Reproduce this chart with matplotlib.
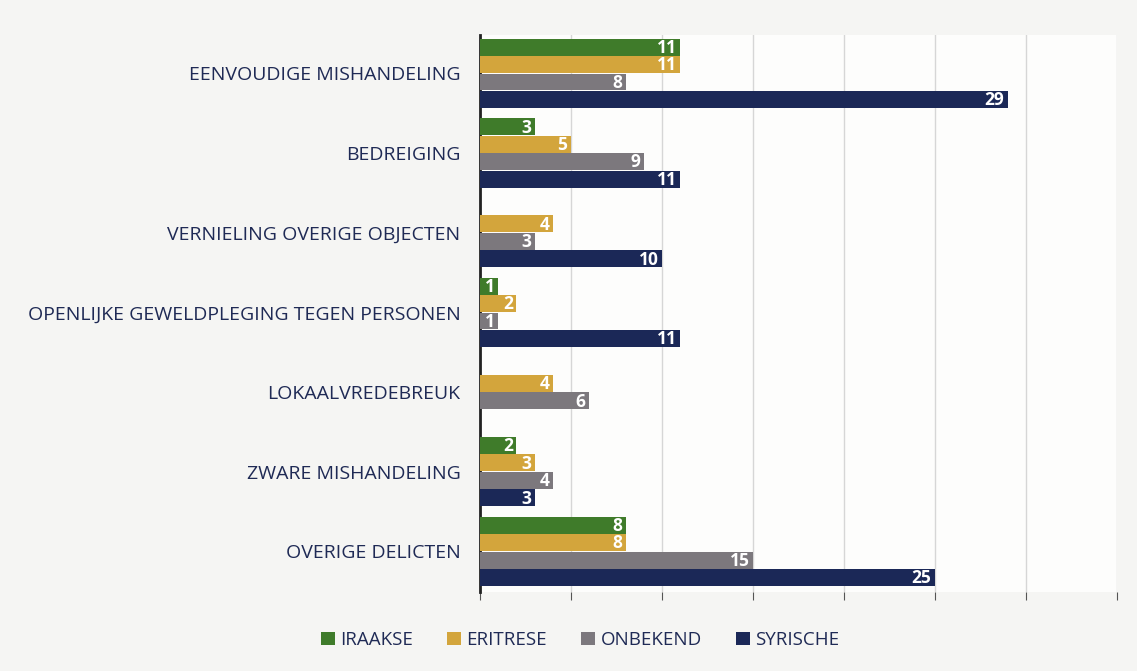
import matplotlib
matplotlib.use("Agg")
import matplotlib.pyplot as plt
import numpy as np

categories = ["EENVOUDIGE MISHANDELING", "BEDREIGING", "VERNIELING OVERIGE OBJECTEN",
              "OPENLIJKE GEWELDPLEGING TEGEN PERSONEN", "LOKAALVREDEBREUK",
              "ZWARE MISHANDELING", "OVERIGE DELICTEN"]
series_names = ["IRAAKSE", "ERITRESE", "ONBEKEND", "SYRISCHE"]
iraakse = [11, 3, 0, 1, 0, 2, 8]
eritrese = [11, 5, 4, 2, 4, 3, 8]
onbekend = [8, 9, 3, 1, 6, 4, 15]
syrische = [29, 11, 10, 11, 0, 3, 25]
colors = ["#3f7b2a", "#d3a53c", "#7c787d", "#1b2857"]

plt.rcParams['font.family'] = ['Open Sans', 'DejaVu Sans']
W, H = 1137, 671
fig = plt.figure(figsize=(W / 100, H / 100), dpi=100, facecolor="#f5f5f3")
ax = fig.add_axes([480 / W, 1 - 592 / H, (1117 - 480) / W, (592 - 35) / H])
ax.set_facecolor("#fdfdfc")

data = [iraakse, eritrese, onbekend, syrische]
y = np.arange(len(categories))
bh = 0.219
for i, (vals, c, name) in enumerate(zip(data, colors, series_names)):
    pos = y - 1.5 * bh + i * bh
    bars = ax.barh(pos, vals, height=bh * 0.97, color=c, label=name, zorder=3)
    for b, v in zip(bars, vals):
        if v > 0:
            ax.text(v - 0.2, b.get_y() + b.get_height() / 2 + 0.01, str(v),
                    ha="right", va="center", color="white", fontsize=12.5,
                    fontweight="bold", zorder=4)

ax.set_xlim(0, 35)
ax.set_ylim(6.51, -0.48)
ax.set_xticks(np.arange(0, 36, 5))
ax.set_xticklabels([])
ax.grid(axis="x", color="#d6d6d6", linewidth=1, zorder=0)
ax.set_yticks(y)
ax.set_yticklabels(categories, fontsize=14, color="#1f2a55")
ax.tick_params(axis="y", length=0, pad=14)
ax.tick_params(axis="x", direction="out", length=6, color="#555555")
for s in ["top", "right", "bottom"]:
    ax.spines[s].set_visible(False)
ax.spines["left"].set_color("#222222")
ax.spines["left"].set_linewidth(2)

leg = fig.legend(loc="center", bbox_to_anchor=(580 / W, 1 - 640 / H), ncol=4,
                 frameon=False, fontsize=13.5, handlelength=0.75, handleheight=0.75,
                 handletextpad=0.3, columnspacing=1.8)
for t in leg.get_texts():
    t.set_color("#1f2a55")

fig.savefig("out.png", dpi=100, facecolor=fig.get_facecolor())
